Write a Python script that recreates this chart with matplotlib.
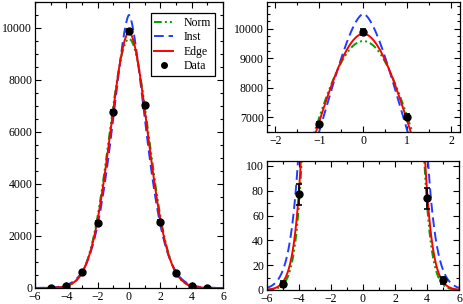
#!/usr/bin/env python3
"""Three-panel profile: full view, zoom on the peak, zoom on the tails."""
import numpy as np
import matplotlib.pyplot as plt
from matplotlib.lines import Line2D
from matplotlib.ticker import MultipleLocator

plt.rcParams["font.family"] = ["Liberation Serif", "DejaVu Serif"]

# measured points (with their error bars)
data_x = [-5, -4, -3, -2, -1, 0, 1, 2, 3, 4, 5]
data_y = [5, 77, 598, 2513, 6766, 9880, 7020, 2551, 575, 74, 8]
data_err = [2.2, 8.8, 24.5, 50, 82, 99, 84, 50.5, 24, 8.6, 2.8]

# model curves: peak height, width scale and shape exponent
model_names = ["Norm", "Inst", "Edge"]
model_peak = [9580, 10500, 9830]
model_scale = [0.31, 0.472, 0.357]
model_power = [2.0, 1.63, 1.88]
model_colors = ["#00a000", "#1f3dff", "#ff0000"]
model_dashes = [(4, 1.6, 1, 1.6, 1, 1.6), (5, 2.5), ()]


def model(x, peak, scale, power):
    return peak * np.exp(-scale * np.abs(x) ** power)


xs = np.linspace(-6.5, 6.5, 2001)

W, H = 463, 304
fig = plt.figure(figsize=(W / 100, H / 100), dpi=100)
ax_full = fig.add_axes([35 / W, 1 - 288 / H, 188 / W, 286 / H])
ax_peak = fig.add_axes([266.7 / W, 1 - 132.3 / H, 193.3 / W, 130.3 / H])
ax_tail = fig.add_axes([266.7 / W, 1 - 290 / H, 192.6 / W, 129 / H])

handles = []
for ax in (ax_full, ax_peak, ax_tail):
    handles = []
    for name, pk, sc, pw, col, ds in zip(model_names, model_peak, model_scale,
                                         model_power, model_colors, model_dashes):
        line, = ax.plot(xs, model(xs, pk, sc, pw), color=col, lw=1.4, label=name)
        if ds:
            line.set_dashes(ds)
        handles.append(line)
    ax.errorbar(data_x, data_y, yerr=data_err, fmt="o", color="black", ms=5,
                elinewidth=1.2, capsize=2.5, capthick=1.2)
    ax.tick_params(which="both", direction="in", top=True, right=True,
                   labelsize=8.5, width=0.8, pad=2)
    ax.tick_params(which="major", length=4.5)
    ax.tick_params(which="minor", length=2.5)
    for s in ax.spines.values():
        s.set_linewidth(0.9)

ax_full.set_xlim(-6, 6)
ax_full.set_ylim(0, 11000)
ax_full.xaxis.set_major_locator(MultipleLocator(2))
ax_full.xaxis.set_minor_locator(MultipleLocator(1))
ax_full.yaxis.set_major_locator(MultipleLocator(2000))
ax_full.yaxis.set_minor_locator(MultipleLocator(500))
dot = Line2D([], [], ls="none", marker="o", color="black", ms=4)
leg = ax_full.legend(handles + [dot], model_names + ["Data"],
                     loc="upper right", bbox_to_anchor=(0.955, 0.96), fontsize=8.5,
                     fancybox=False, framealpha=1, edgecolor="black",
                     handlelength=1.6, handletextpad=0.9, borderpad=0.3,
                     labelspacing=0.2, borderaxespad=0)
leg.get_frame().set_linewidth(0.9)

ax_peak.set_xlim(-2.2, 2.2)
ax_peak.set_ylim(6500, 10900)
ax_peak.xaxis.set_major_locator(MultipleLocator(1))
ax_peak.xaxis.set_minor_locator(MultipleLocator(0.5))
ax_peak.yaxis.set_major_locator(MultipleLocator(1000))
ax_peak.yaxis.set_minor_locator(MultipleLocator(250))

ax_tail.set_xlim(-6, 6)
ax_tail.set_ylim(0, 104)
ax_tail.xaxis.set_major_locator(MultipleLocator(2))
ax_tail.xaxis.set_minor_locator(MultipleLocator(1))
ax_tail.yaxis.set_major_locator(MultipleLocator(20))
ax_tail.yaxis.set_minor_locator(MultipleLocator(10))

fig.savefig("out.png", dpi=100, facecolor="white")
